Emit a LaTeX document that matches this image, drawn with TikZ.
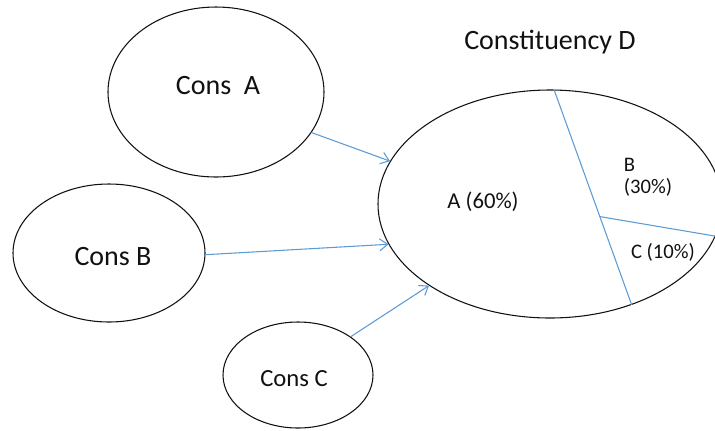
\documentclass[tikz,border=0pt]{standalone}
\usepackage{fontspec}
\setmainfont{Carlito}
\usetikzlibrary{arrows.meta,shapes.geometric,calc}
\definecolor{ink}{HTML}{111111}
\definecolor{linkblue}{HTML}{5B9BD5}
\tikzset{
  cons/.style={ellipse, draw=ink, line width=0.8pt, inner sep=0pt},
  bigtext/.style={text=ink, font=\fontsize{21}{25}\selectfont},
  sharetext/.style={text=ink, align=left, font=\fontsize{17}{20}\selectfont},
  part/.style={draw=linkblue, line width=0.8pt},
  arrow/.style={-{Straight Barb[length=6pt,width=9pt]}, draw=linkblue, line width=0.8pt}
}
\begin{document}
\begin{tikzpicture}[x=0.75pt, y=-0.75pt]
  \useasboundingbox (0,0) rectangle (715,430);
  % constituencies
  \node[cons, minimum width=162pt, minimum height=127.5pt] (consA) at (216,92) {};
  \node[cons, minimum width=144pt, minimum height=103.5pt] (consB) at (109,253) {};
  \node[cons, minimum width=112.5pt, minimum height=79.5pt] (consC) at (298,375) {};
  \node[cons, minimum width=258pt, minimum height=171pt] (consD) at (550,204) {};
  \node[bigtext] (nameA) at (218,86) {Cons\ \ A};
  \node[bigtext] (nameB) at (113,257) {Cons B};
  \node[bigtext, font=\fontsize{18.5}{22}\selectfont] (nameC) at (294,379) {Cons C};
  \node[bigtext] (nameD) at (550,42) {Constituency D};
  % split of D
  \coordinate (cuttop) at (consD.88);
  \coordinate (cutbot) at (consD.-51);
  \coordinate (cutmid) at ($(cuttop)!0.59!(cutbot)$);
  \draw[part] (cuttop) -- (cutbot);
  \draw[part] (cutmid) -- (consD.-11);
  \node[sharetext] (shareA) at (483,202) {A (60\%)};
  \node[sharetext, font=\fontsize{15.5}{16.5}\selectfont] (shareB) at (648,177) {B\\(30\%)};
  \node[sharetext, font=\fontsize{15.5}{20}\selectfont] (shareC) at (663,252) {C (10\%)};
  % arrows
  \draw[arrow] (consA.-23) -- (consD.165);
  \draw[arrow] (consB.-1) -- (consD.194);
  \draw[arrow] (consC.36) -- (consD.214);
\end{tikzpicture}
\end{document}
